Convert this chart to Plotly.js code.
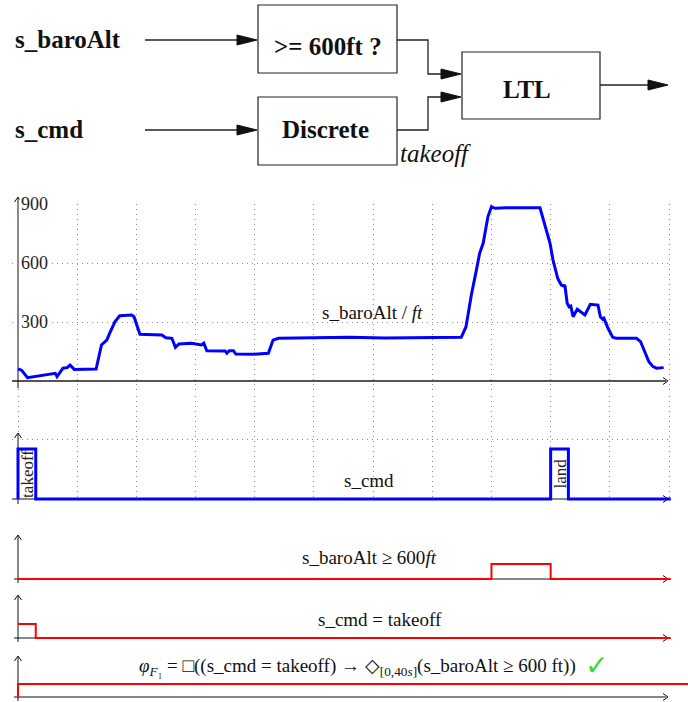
<!DOCTYPE html>
<html>
<head>
<meta charset="utf-8">
<script src="https://cdn.plot.ly/plotly-3.0.1.min.js"></script>
<style>html,body{margin:0;padding:0;background:#fff;}#chart{width:688px;height:702px;}</style>
</head>
<body>
<div id="chart"></div>
<script>
// ---------- data ----------
// time axis: one grid cell = 10 time units
const altT = [0, 0.6, 1.6, 6.3, 6.6, 7.6, 8.3, 8.8, 9.5, 13.2, 14.1, 15.0, 15.5, 16.4, 17.2, 19.2, 19.6, 20.6,
  24.3, 25.0, 26.0, 26.6, 27.2, 29.3, 31.0, 31.4, 31.9, 35.0, 35.3, 35.7, 36.4, 36.8, 39.7, 41.2, 42.3, 43.1, 44.0,
  50, 56, 62, 68, 74.9, 75.7, 76.6, 77.4, 78.0, 78.6, 79.1, 79.4, 80.0, 80.6, 82.5, 88.2, 89.9, 90.4, 91.2, 91.8,
  92.2, 92.4, 92.8, 93.1, 93.4, 93.8, 94.5, 95.8, 96.7, 98.0, 98.4, 98.8, 99.0, 99.7, 100.5, 101.1, 104.5, 105.2,
  105.9, 106.6, 107.3, 107.9, 109.1];
const altV = [61, 55, 17, 39, 22, 65, 68, 81, 59, 61, 183, 208, 243, 302, 332, 336, 327, 238,
  234, 220, 217, 171, 188, 192, 183, 192, 154, 153, 141, 154, 154, 137, 136, 141, 141, 208, 217,
  220, 222, 219, 221, 222, 276, 437, 556, 649, 700, 785, 835, 886, 878, 881, 881, 700, 615, 522, 488,
  483, 488, 395, 378, 381, 327, 365, 336, 390, 386, 327, 314, 319, 268, 222, 217, 217, 200,
  149, 98, 73, 65, 68];
const altTicks = [300, 600, 900];

// s_cmd events (1 = command active)
const cmdT = [0, 0, 3, 90, 93, 110.3];
const cmdV = [0, 1, 0, 1, 0, 0];
const cmdEvents = [{t: 1.5, label: 'takeoff'}, {t: 91.5, label: 'land'}];

// boolean signals
const geT = [0, 80, 90, 110.3];
const geV = [0, 1, 0, 0];
const takeoffT = [0, 3, 110.3];
const takeoffV = [1, 0, 0];
const phiT = [0, 0, 113.5];
const phiV = [0, 1, 1];

// ---------- geometry helpers ----------
const W = 688, H = 702;
const X0 = 18, S = 651 / 110;           // px of t=0, px per time unit
const tOf = px => (px - X0) / S;
const fx = px => px / W;
const fy = py => 1 - py / H;
function yAx(topPx, botPx, zeroPx, pxPerUnit) {
  return {domain: [fy(botPx), fy(topPx)], range: [(zeroPx - botPx) / pxPerUnit, (zeroPx - topPx) / pxPerUnit]};
}
const SERIF = 'Liberation Serif';
const DOT = '1px,4px';

const shapes = [];
const annotations = [];
function seg(x0, y0, x1, y1, color, width, layer) {
  shapes.push({type: 'line', xref: 'paper', yref: 'paper', x0: fx(x0), y0: fy(y0), x1: fx(x1), y1: fy(y1),
    line: {color: color || '#111', width: width || 1}, layer: layer || 'below'});
}
function poly(pts, closed, fill, color, width, layer) {
  const d = pts.map((p, i) => (i ? 'L' : 'M') + fx(p[0]) + ',' + fy(p[1])).join(' ') + (closed ? ' Z' : '');
  shapes.push({type: 'path', xref: 'paper', yref: 'paper', path: d, fillcolor: fill || 'rgba(0,0,0,0)',
    line: {color: color || '#111', width: width || 1}, layer: layer || 'below'});
}
function rect(x0, y0, x1, y1) {
  shapes.push({type: 'rect', xref: 'paper', yref: 'paper', x0: fx(x0), y0: fy(y1), x1: fx(x1), y1: fy(y0),
    line: {color: '#222', width: 1.2}, fillcolor: 'rgba(0,0,0,0)'});
}
function openUp(x, y) { poly([[x - 3.5, y + 5], [x, y], [x + 3.5, y + 5]], false, null, '#111', 1); }
function openRight(x, y) { poly([[x - 5, y - 3.5], [x, y], [x - 5, y + 3.5]], false, null, '#111', 1); }
function solidRight(x, y) { poly([[x - 20, y - 5], [x, y], [x - 20, y + 5]], true, '#111', '#111', 1, 'above'); }
function txt(x, y, text, opts) {
  annotations.push(Object.assign({xref: 'paper', yref: 'paper', x: fx(x), y: fy(y), text: text, showarrow: false,
    xanchor: 'center', yanchor: 'middle', font: {family: SERIF, size: 19, color: '#111'}}, opts || {}));
}

// ---------- block diagram ----------
rect(258, 5, 397, 73);
rect(258, 97, 397, 165);
rect(462, 52, 600, 119);
seg(145, 40, 240, 40, '#222', 1.3, 'above'); solidRight(257, 40);
seg(145, 130, 240, 130, '#222', 1.3, 'above'); solidRight(257, 130);
poly([[397, 40], [428, 40], [428, 74], [444, 74]], false, null, '#222', 1.3, 'above'); solidRight(461, 74);
poly([[397, 130], [428, 130], [428, 97], [444, 97]], false, null, '#222', 1.3, 'above'); solidRight(461, 97);
seg(600, 85, 651, 85, '#222', 1.3, 'above'); solidRight(668, 85);
const bold = {family: SERIF, size: 25, color: '#111'};
txt(13, 40, '<b>s_baroAlt</b>', {xanchor: 'left', font: bold});
txt(13, 130, '<b>s_cmd</b>', {xanchor: 'left', font: bold});
txt(328, 46, '<b>&gt;= 600ft ?</b>', {font: bold});
txt(325, 130, '<b>Discrete</b>', {font: bold});
txt(527, 89, '<b>LTL</b>', {font: bold});
txt(435, 153, '<i>takeoff</i>', {font: {family: SERIF, size: 25, color: '#111'}});

// ---------- plot axes (lines + arrows) ----------
// panel 1
seg(12, 381, 666, 381, '#555', 2.2); openRight(668, 381);
seg(X0, 388, X0, 198, '#111', 1); openUp(X0, 197);
// panel 2
seg(12, 499, 666, 499, '#111', 1); openRight(668, 499);
seg(X0, 504, X0, 434, '#111', 1); openUp(X0, 433);
// panel 3
seg(14, 579, 666, 579, '#111', 1); openRight(668, 579);
seg(X0, 583, X0, 536, '#111', 1); openUp(X0, 535);
// panel 4
seg(14, 638, 666, 638, '#111', 1); openRight(668, 638);
seg(X0, 642, X0, 596, '#111', 1); openUp(X0, 595);
// panel 5
seg(14, 697, 666, 697, '#111', 1); openRight(668, 697);
seg(X0, 701, X0, 657, '#111', 1); openUp(X0, 656);

// ---------- labels ----------
altTicks.forEach(v => annotations.push({xref: 'x', yref: 'y', x: 0, y: v, text: String(v), showarrow: false,
  xanchor: 'left', yanchor: 'middle', xshift: 1, bgcolor: '#ffffff', borderpad: 1,
  font: {family: SERIF, size: 18, color: '#222'}}));
txt(372, 312, 's_baroAlt / <i>ft</i>');
txt(369, 480, 's_cmd');
cmdEvents.forEach(e => annotations.push({xref: 'x2', yref: 'y2', x: e.t, y: 0.5, text: e.label, showarrow: false,
  textangle: -90, xanchor: 'center', yanchor: 'middle', font: {family: SERIF, size: 17, color: '#222'}}));
txt(370, 557, 's_baroAlt ≥ 600<i>ft</i>');
txt(380, 619, 's_cmd = takeoff');
txt(357, 667, '<i>φ</i><sub><i>F</i>₁</sub> = □((s_cmd = takeoff) → ◇<sub>[0,40<i>s</i>]</sub>(s_baroAlt ≥ 600 ft))');
txt(596, 665, '✓', {font: {family: 'DejaVu Sans', size: 28, color: '#33dd33'}});

// ---------- traces ----------
const blue = '#0000ff', red = '#ff0000';
const traces = [
  {x: altT, y: altV, xaxis: 'x', yaxis: 'y', mode: 'lines', line: {color: blue, width: 3}},
  {x: cmdT, y: cmdV, xaxis: 'x2', yaxis: 'y2', mode: 'lines', line: {color: blue, width: 3, shape: 'hv'}},
  {x: geT, y: geV, xaxis: 'x3', yaxis: 'y3', mode: 'lines', line: {color: red, width: 2, shape: 'hv'}},
  {x: takeoffT, y: takeoffV, xaxis: 'x4', yaxis: 'y4', mode: 'lines', line: {color: red, width: 2, shape: 'hv'}},
  {x: phiT, y: phiV, xaxis: 'x5', yaxis: 'y5', mode: 'lines', line: {color: red, width: 2, shape: 'hv'}}
];

const baseX = {showticklabels: false, ticks: '', zeroline: false, showline: false, fixedrange: true};
const gridX = Object.assign({}, baseX, {showgrid: true, dtick: 10, tick0: 0, griddash: DOT, gridcolor: '#8c8c8c', gridwidth: 1,
  domain: [fx(12), fx(672)], range: [tOf(12), tOf(672)]});
const plainX = Object.assign({}, baseX, {showgrid: false, domain: [fx(12), fx(672)], range: [tOf(12), tOf(672)]});
const baseY = {showticklabels: false, ticks: '', zeroline: false, showline: false, fixedrange: true};

const layout = {
  width: W, height: H, margin: {l: 0, r: 0, t: 0, b: 0},
  paper_bgcolor: '#ffffff', plot_bgcolor: 'rgba(0,0,0,0)', showlegend: false,
  xaxis: Object.assign({}, gridX, {anchor: 'y'}),
  yaxis: Object.assign({}, baseY, yAx(204, 392, 381, 59 / 300), {anchor: 'x', showgrid: true, tickvals: altTicks,
    griddash: DOT, gridcolor: '#8c8c8c', gridwidth: 1}),
  xaxis2: Object.assign({}, gridX, {anchor: 'y2'}),
  yaxis2: Object.assign({}, baseY, yAx(396, 501, 499, 50), {anchor: 'x2', showgrid: true, tickvals: [1.2],
    griddash: DOT, gridcolor: '#8c8c8c', gridwidth: 1}),
  xaxis3: Object.assign({}, plainX, {anchor: 'y3'}),
  yaxis3: Object.assign({}, baseY, yAx(540, 590, 579, 15), {anchor: 'x3', showgrid: false}),
  xaxis4: Object.assign({}, plainX, {anchor: 'y4'}),
  yaxis4: Object.assign({}, baseY, yAx(600, 648, 638, 14), {anchor: 'x4', showgrid: false}),
  xaxis5: Object.assign({}, baseX, {anchor: 'y5', showgrid: false, domain: [fx(12), 1], range: [tOf(12), tOf(688)]}),
  yaxis5: Object.assign({}, baseY, yAx(660, 702, 697, 13), {anchor: 'x5', showgrid: false}),
  shapes: shapes,
  annotations: annotations
};

Plotly.newPlot('chart', traces, layout, {staticPlot: true, displayModeBar: false});
</script>
</body>
</html>
